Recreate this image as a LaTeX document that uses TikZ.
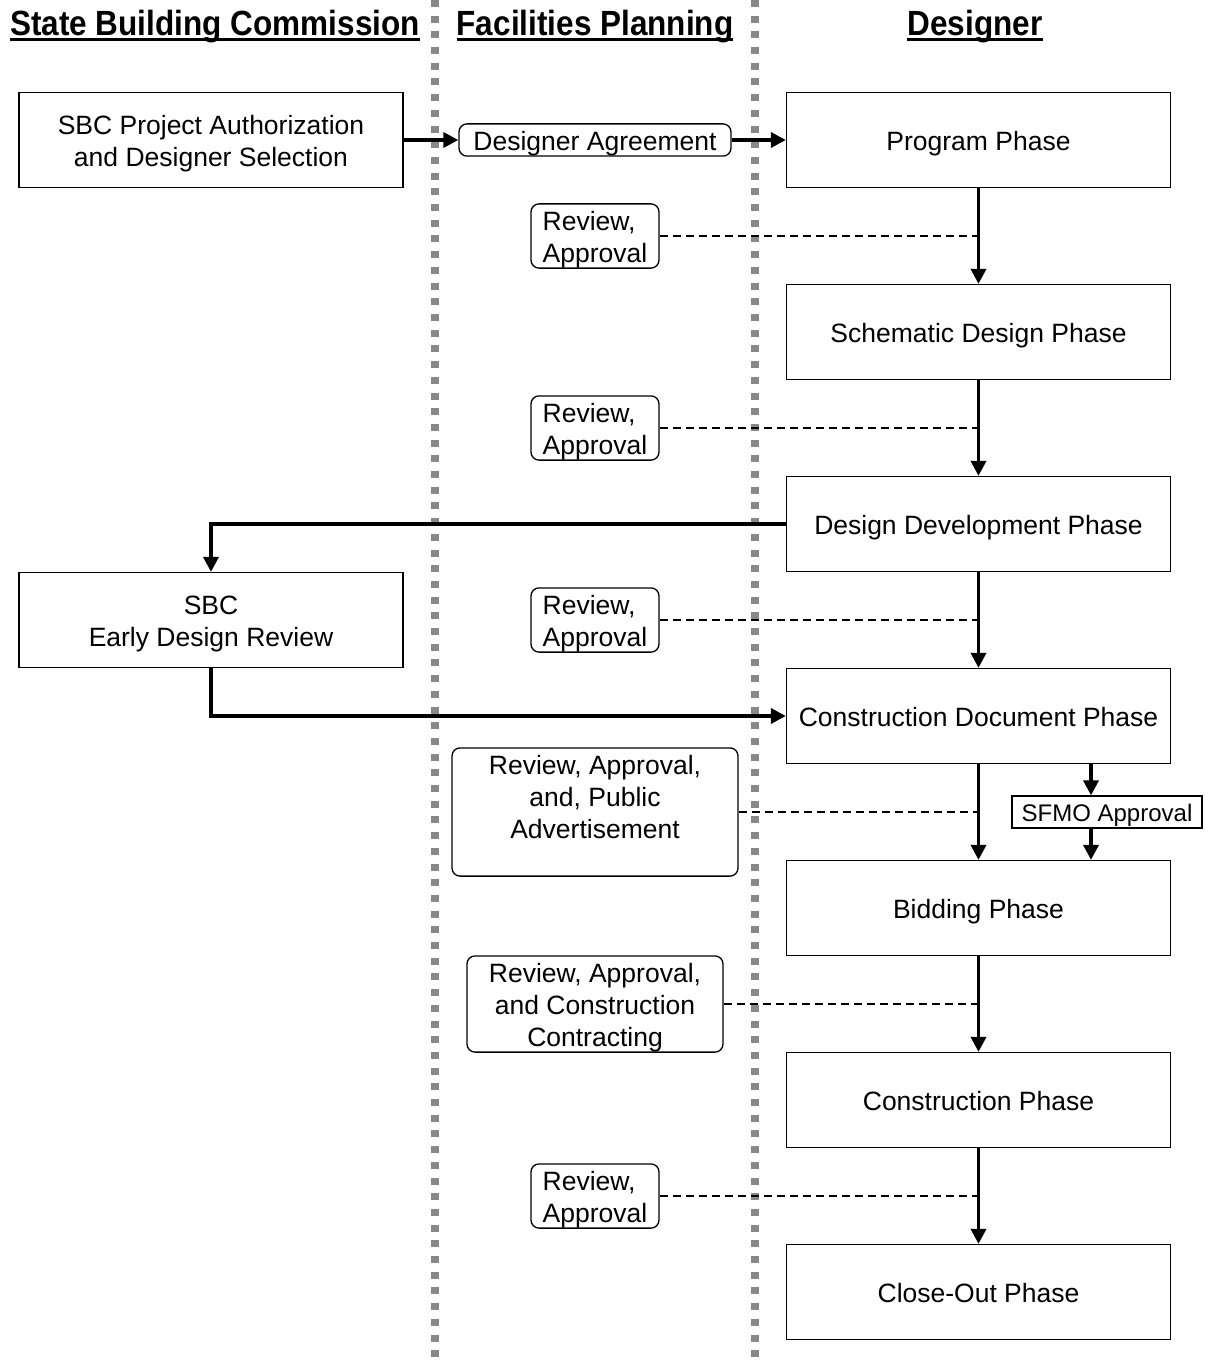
\documentclass[tikz,border=0pt]{standalone}
\usepackage{fontspec}
\setmainfont{Liberation Sans}
\usetikzlibrary{arrows.meta}
\definecolor{lanegray}{RGB}{136,136,136}
\newcommand{\topstrut}{\rule{0pt}{26.6pt}}
\newcommand{\botstrut}{\rule[-5.6pt]{0pt}{5.6pt}}
\begin{document}
\begin{tikzpicture}[x=1pt,y=-1pt,
  txt/.style={font=\fontsize{26.5}{32}\selectfont},
  box/.style={txt, draw, line width=1.3pt, minimum width=384pt, minimum height=95pt, inner sep=0pt, align=center},
  rbox/.style={txt, draw, line width=1.3pt, rounded corners=8pt, inner sep=0pt, align=center},
  revbox/.style={rbox, minimum width=128pt, minimum height=64pt, align=left},
  flow/.style={line width=3.5pt, -{Triangle[length=15pt,width=15pt]}},
  link/.style={line width=2.5pt, dash pattern=on 8pt off 5pt},
  lane/.style={line width=8pt, color=lanegray, dash pattern=on 7pt off 8.7pt},
  hdr/.style={inner sep=0pt, anchor=base, font=\bfseries\fontsize{35}{40}\selectfont},
  uline/.style={line width=3pt}]
\useasboundingbox (0,0) rectangle (1204,1364);
% swimlane separators
\draw[lane] (435,0) -- (435,1364);
\draw[lane] (755,0) -- (755,1364);
% headers
\node[hdr] (h1) at (215,36) {\scalebox{0.9}[1]{State Building Commission}};
\node[hdr] (h2) at (595,36) {\scalebox{0.9}[1]{Facilities Planning}};
\node[hdr] (h3) at (975,36) {\scalebox{0.9}[1]{Designer}};
\foreach \h in {h1,h2,h3}
  \draw[uline] ([yshift=-3.5pt]\h.base west) -- ([yshift=-3.5pt]\h.base east);
% SBC column
\node[box] (sbcA) at (211,140) {\topstrut SBC Project Authorization\\and Designer Selection\botstrut};
\node[box] (early) at (211,620) {\topstrut SBC\\Early Design Review\botstrut};
% Facilities planning column
\node[rbox, minimum width=272pt, minimum height=32pt] (agree) at (595,140) {\topstrut Designer Agreement\botstrut};
\node[revbox] (rev1) at (595,236) {\topstrut Review,\\Approval\botstrut};
\node[revbox] (rev2) at (595,428) {\topstrut Review,\\Approval\botstrut};
\node[revbox] (rev3) at (595,620) {\topstrut Review,\\Approval\botstrut};
\node[rbox, minimum width=286pt, minimum height=128pt] (adv) at (595,812) {\topstrut Review, Approval,\\and, Public\\Advertisement\\\botstrut};
\node[rbox, minimum width=256pt, minimum height=96pt] (contr) at (595,1004) {\topstrut Review, Approval,\\and Construction\\Contracting\botstrut};
\node[revbox] (rev4) at (595,1196) {\topstrut Review,\\Approval\botstrut};
% Designer column
\node[box] (prog) at (978.5,140) {\topstrut Program Phase\botstrut};
\node[box] (schem) at (978.5,332) {\topstrut Schematic Design Phase\botstrut};
\node[box] (dd) at (978.5,524) {\topstrut Design Development Phase\botstrut};
\node[box] (cd) at (978.5,716) {\topstrut Construction Document Phase\botstrut};
\node[box] (bid) at (978.5,908) {\topstrut Bidding Phase\botstrut};
\node[box] (cons) at (978.5,1100) {\topstrut Construction Phase\botstrut};
\node[box] (close) at (978.5,1292) {\topstrut Close-Out Phase\botstrut};
\node[draw, line width=1.3pt, minimum width=190pt, minimum height=32pt, inner sep=0pt, font=\fontsize{24}{28}\selectfont] (sfmo) at (1107,812) {\rule{0pt}{24pt}SFMO Approval\rule[-5pt]{0pt}{5pt}};
% flows
\draw[flow] (sbcA.east) -- (agree.west);
\draw[flow] (agree.east) -- (prog.west);
\draw[flow] (prog.south) -- (schem.north);
\draw[flow] (schem.south) -- (dd.north);
\draw[flow] (dd.south) -- (cd.north);
\draw[flow] (cd.south) -- (bid.north);
\draw[flow] (bid.south) -- (cons.north);
\draw[flow] (cons.south) -- (close.north);
\draw[flow] (dd.west) -| (early.north);
\draw[flow] (early.south) |- (cd.west);
\draw[flow] ([xshift=-16pt]sfmo.north |- cd.south) -- ([xshift=-16pt]sfmo.north);
\draw[flow] ([xshift=-16pt]sfmo.south) -- ([xshift=-16pt]sfmo.south |- bid.north);
% review links
\draw[link] (rev1.east) -- (rev1.east -| prog.south);
\draw[link] (rev2.east) -- (rev2.east -| prog.south);
\draw[link] (rev3.east) -- (rev3.east -| prog.south);
\draw[link] (adv.east) -- (adv.east -| prog.south);
\draw[link] (contr.east) -- (contr.east -| prog.south);
\draw[link] (rev4.east) -- (rev4.east -| prog.south);
\end{tikzpicture}
\end{document}
